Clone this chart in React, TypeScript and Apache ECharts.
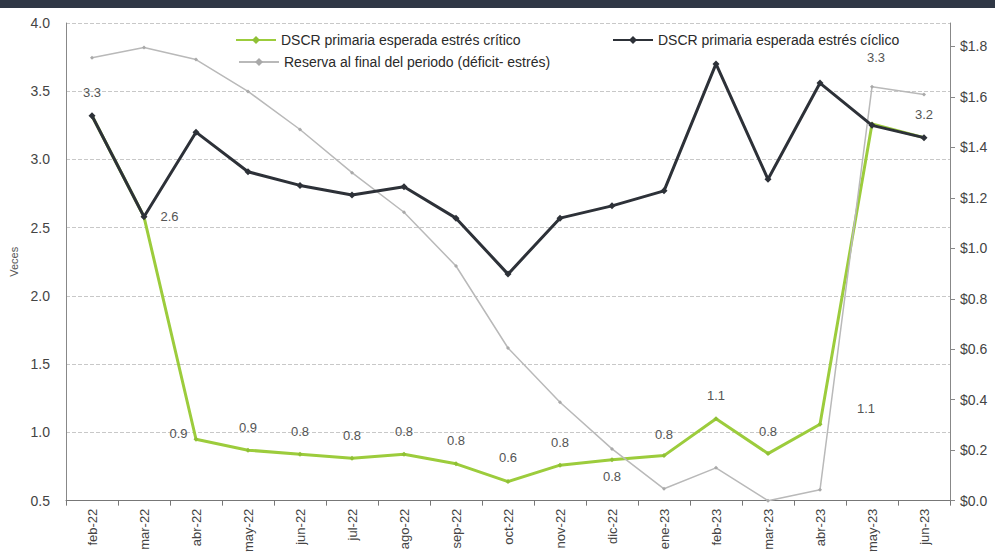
import React, { useEffect, useRef } from "react";
import * as echarts from "echarts";

const categories = [
  "feb-22", "mar-22", "abr-22", "may-22", "jun-22", "jul-22", "ago-22", "sep-22",
  "oct-22", "nov-22", "dic-22", "ene-23", "feb-23", "mar-23", "abr-23", "may-23", "jun-23",
];

const criticoValues = [
  3.32, 2.58, 0.95, 0.87, 0.84, 0.81, 0.84, 0.77,
  0.64, 0.76, 0.8, 0.83, 1.1, 0.845, 1.06, 3.26, 3.16,
];

const ciclicoValues = [
  3.32, 2.58, 3.2, 2.91, 2.81, 2.74, 2.8, 2.57,
  2.16, 2.57, 2.66, 2.77, 3.7, 2.855, 3.56, 3.25, 3.16,
];

const reservaValues = [
  1.755, 1.796, 1.748, 1.622, 1.471, 1.3, 1.143, 0.93,
  0.605, 0.39, 0.205, 0.047, 0.13, 0.0, 0.043, 1.64, 1.61,
];

const leftTicks = { min: 0.5, max: 4.0, interval: 0.5 };
const rightTicks = { min: 0, max: 1.893, interval: 0.2 };

const NAME_CRIT = "DSCR primaria esperada estrés crítico";
const NAME_CICL = "DSCR primaria esperada estrés cíclico";
const NAME_RES = "Reserva al final del periodo (déficit- estrés)";

// label placement per point for the critical series (layout only)
const critLabelLayout: Array<{ position: string; distance?: number; offset?: number[] }> = [
  { position: "top", distance: 14 },
  { position: "right", distance: 14 },
  { position: "left", distance: 6, offset: [0, -6] },
  { position: "top", distance: 14 },
  { position: "top", distance: 14 },
  { position: "top", distance: 14 },
  { position: "top", distance: 14 },
  { position: "top", distance: 14 },
  { position: "top", distance: 15 },
  { position: "top", distance: 14 },
  { position: "bottom", distance: 8 },
  { position: "top", distance: 12 },
  { position: "top", distance: 14 },
  { position: "top", distance: 13 },
  { position: "top", distance: 14, offset: [46, 7] },
  { position: "top", distance: 14, offset: [4, -43] },
  { position: "top", distance: 14 },
];

const FONT = "'Liberation Sans Narrow', 'Liberation Sans', Arial, sans-serif";

export default function App() {
  const ref = useRef<HTMLDivElement>(null);

  useEffect(() => {
    if (!ref.current) return;
    const chart = echarts.init(ref.current, undefined, { renderer: "svg" });

    const critData = criticoValues.map((v, i) => {
      const l = critLabelLayout[i];
      return {
        value: v,
        label: {
          show: true,
          position: l.position,
          distance: l.distance ?? 5,
          offset: l.offset ?? [0, 0],
        },
      };
    });

    const legendText = { fontFamily: FONT, fontSize: 14, color: "#2a2a2a" };

    const option: any = {
      animation: false,
      backgroundColor: "#ffffff",
      textStyle: { fontFamily: FONT },
      graphic: [
        {
          type: "rect",
          left: 0,
          top: 0,
          shape: { width: 995, height: 8 },
          style: { fill: "#2f3745" },
        },
      ],
      legend: [
        {
          data: [NAME_CRIT],
          left: 230,
          top: 28,
          itemWidth: 40,
          itemHeight: 10,
          textStyle: legendText,
        },
        {
          data: [NAME_CICL],
          left: 607,
          top: 28,
          itemWidth: 40,
          itemHeight: 10,
          textStyle: legendText,
        },
        {
          data: [NAME_RES],
          left: 233,
          top: 50,
          itemWidth: 40,
          itemHeight: 10,
          textStyle: legendText,
        },
      ],
      grid: { left: 66, right: 45, top: 23, bottom: 50 },
      xAxis: {
        type: "category",
        data: categories,
        boundaryGap: true,
        axisLine: { lineStyle: { color: "#777", width: 1 } },
        axisTick: { show: true, alignWithLabel: false, length: 5, lineStyle: { color: "#777" } },
        axisLabel: {
          rotate: 90,
          fontFamily: FONT,
          fontSize: 13,
          color: "#444",
          margin: 8,
          interval: 0,
        },
      },
      yAxis: [
        {
          type: "value",
          min: leftTicks.min,
          max: leftTicks.max,
          interval: leftTicks.interval,
          name: "Veces",
          nameLocation: "middle",
          nameRotate: 90,
          nameGap: 46,
          nameTextStyle: { fontFamily: FONT, fontSize: 11, color: "#555" },
          axisLine: { show: true, lineStyle: { color: "#888" } },
          axisTick: { show: false },
          axisLabel: {
            fontFamily: FONT,
            fontSize: 14,
            color: "#444",
            margin: 16,
            formatter: (v: number) => v.toFixed(1),
          },
          splitLine: { show: true, lineStyle: { color: "#c8c8c8", type: "dashed", width: 1 } },
        },
        {
          type: "value",
          min: rightTicks.min,
          max: rightTicks.max,
          interval: rightTicks.interval,
          position: "right",
          axisLine: { show: true, lineStyle: { color: "#888" } },
          axisTick: { show: true, length: 5, lineStyle: { color: "#888" } },
          axisLabel: {
            fontFamily: FONT,
            fontSize: 14,
            color: "#444",
            margin: 10,
            showMaxLabel: false,
            formatter: (v: number) => "$" + v.toFixed(1),
          },
          splitLine: { show: false },
        },
      ],
      series: [
        {
          name: NAME_CRIT,
          type: "line",
          yAxisIndex: 0,
          data: critData,
          z: 2,
          symbol: "diamond",
          symbolSize: 5,
          lineStyle: { color: "#9ccc3c", width: 3 },
          itemStyle: { color: "#8fc035" },
          label: {
            show: true,
            fontFamily: FONT,
            fontSize: 13,
            color: "#555",
            formatter: (p: any) => Number(p.value).toFixed(1),
          },
        },
        {
          name: NAME_RES,
          type: "line",
          yAxisIndex: 1,
          data: reservaValues,
          z: 3,
          symbol: "diamond",
          symbolSize: 4,
          lineStyle: { color: "#b9b9b9", width: 1.5 },
          itemStyle: { color: "#a9a9a9" },
        },
        {
          name: NAME_CICL,
          type: "line",
          yAxisIndex: 0,
          data: ciclicoValues,
          z: 4,
          symbol: "diamond",
          symbolSize: 7,
          lineStyle: { color: "#2d3138", width: 3 },
          itemStyle: { color: "#2d3138" },
        },
      ],
    };

    chart.setOption(option);
    return () => chart.dispose();
  }, []);

  return (
    <div
      ref={ref}
      style={{ position: "fixed", left: 0, top: 0, width: 995, height: 555, background: "#fff" }}
    />
  );
}
